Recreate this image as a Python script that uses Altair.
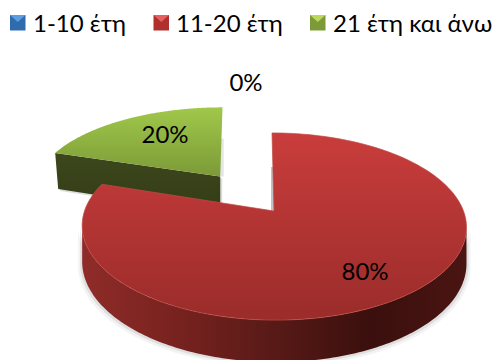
import math
import numpy as np
import altair as alt

# Shares and legend entries, in drawing order clockwise from twelve o'clock
categories = ["1-10 έτη", "11-20 έτη", "21 έτη και άνω"]
shares = [0, 80, 20]
explode = [0.0, 0.0, 0.5]

W, H = 496, 360
CX, CY = 274.0, 211.0   # centre of the disc on the page
RX, RY = 189.5, 91.0    # ellipse radii before perspective
PERSP = 0.166           # perspective strength towards the back
DEPTH = 35.0            # thickness of the disc
LEAN = [0.0, -2.0, -5.0]     # sideways lean of each slice towards the back
WIDEN = [1.0, 1.0, 1.03]     # horizontal stretch of each slice


def project(X, Y, z=0.0, i=1, oy=0.0):
    w = 1 + PERSP * Y
    return (CX + RX * WIDEN[i] * X / w + LEAN[i] * (Y - oy),
            CY + (-RY * Y + z) / w)


def polygon(points):
    ring = [[float(a), float(b)] for a, b in points]
    ring.append(ring[0])
    return {"type": "Feature", "properties": {},
            "geometry": {"type": "Polygon", "coordinates": [ring]}}


def shape(points, **mark):
    return (alt.Chart(alt.Data(values=[polygon(points)]))
            .mark_geoshape(**mark)
            .project(type="identity", scale=1, translate=[0, 0]))


def gradient(stops, horizontal=False):
    n = len(stops) - 1
    return {"gradient": "linear", "x1": 0, "y1": 0,
            "x2": 1 if horizontal else 0, "y2": 0 if horizontal else 1,
            "stops": [{"offset": k / n, "color": c} for k, c in enumerate(stops)]}


def rim(start, end, i, origin, z=0.0, n=160):
    ox, oy = origin
    return [project(ox + math.sin(t), oy + math.cos(t), z, i, oy)
            for t in np.linspace(start, end, n)]


# Angular extent of each slice and its displaced apex
edges = np.cumsum([0] + shares) / 100 * 2 * math.pi
mids = (edges[:-1] + edges[1:]) / 2
origins = [(e * math.sin(m), e * math.cos(m)) for e, m in zip(explode, mids)]

layers = []

# Green slice: cut face, then top
g0, g1 = edges[2], edges[3]
go = origins[2]
apex = project(go[0], go[1], 0, 2, go[1])
corner = project(go[0] + math.sin(g0), go[1] + math.cos(g0), 0, 2, go[1])
drop = DEPTH + 5
face = [corner, apex,
        (apex[0], apex[1] + drop * 0.95),
        (corner[0] + 3, corner[1] + drop * 0.9)]
layers.append(shape([(x + 2, y + 2) for x, y in face], fill="#777777", opacity=0.25))
layers.append(shape(face, fill=gradient(["#3d471c", "#333c17"])))
layers.append(shape([apex, (apex[0] + 3.5, apex[1]), (apex[0] + 3.5, apex[1] - 38), (apex[0], apex[1] - 38)],
                    fill="#999999", opacity=0.25))
layers.append(shape([apex] + rim(g0, g1, 2, go),
                    fill=gradient(["#a0c84a", "#7c9a38"])))

# Red slice: soft halo, side wall, top
r0, r1 = edges[1], edges[2]
ro = origins[1]
side_a = math.acos(-PERSP)
side_b = 2 * math.pi - side_a
upper = rim(side_a, side_b, 1, ro)
lower = rim(side_a, side_b, 1, ro, DEPTH)
for grow, alpha in [(4, 0.07), (2, 0.12)]:
    halo = [(x + (grow if x > CX else -grow), y) for x, y in upper] + \
           [(x + (grow if x > CX else -grow), y + grow) for x, y in lower[::-1]]
    layers.append(shape(halo, fill="#555555", opacity=alpha))
layers.append(shape(upper + lower[::-1],
                    fill=gradient(["#8f2c29", "#77221f", "#581a17", "#3a0f0d", "#4a1512"],
                                  horizontal=True)))
centre = project(ro[0], ro[1], 0, 1, ro[1])
layers.append(shape([(centre[0] - 3, centre[1] - 44), (centre[0], centre[1] - 44), centre,
                     (centre[0] - 3, centre[1])], fill="#666666", opacity=0.4))
layers.append(shape([centre] + rim(r0, r1, 1, ro), fill=gradient(["#c93d3c", "#9a2c2a"]),
                    stroke="#c04a45", strokeWidth=0.7))

# Percentage labels
label_x = [246, 365, 165]
label_y = [84, 273, 136]
for share, lx, ly in zip(shares, label_x, label_y):
    layers.append(alt.Chart(alt.Data(values=[{"label": f"{share}%"}]))
                  .mark_text(font="Lato", fontSize=24, color="#000000",
                             align="center", baseline="middle")
                  .encode(x=alt.value(lx), y=alt.value(ly), text="label:N"))

# Legend: bevelled swatches and their captions
swatch_x = [10, 153.5, 310]
swatch_y, swatch_s = 15, 15.5
swatch_mid = ["#2f6cae", "#b02f2f", "#7d9a38"]
swatch_top = ["#5d9ee0", "#e8605e", "#bcd85c"]
text_x = [33, 176, 333]
for name, sx, mid, top, tx in zip(categories, swatch_x, swatch_mid, swatch_top, text_x):
    square = [(sx, swatch_y), (sx + swatch_s, swatch_y),
              (sx + swatch_s, swatch_y + swatch_s), (sx, swatch_y + swatch_s)]
    wedge = [(sx, swatch_y), (sx + swatch_s, swatch_y),
             (sx + swatch_s / 2, swatch_y + swatch_s * 0.45)]
    layers.append(shape(square, fill=mid))
    layers.append(shape(wedge, fill=top))
    layers.append(alt.Chart(alt.Data(values=[{"label": name}]))
                  .mark_text(font="Lato", fontSize=24, color="#000000",
                             align="left", baseline="middle")
                  .encode(x=alt.value(tx), y=alt.value(25), text="label:N"))

chart = (alt.layer(*layers)
         .properties(width=W, height=H, padding=0,
                     autosize=alt.AutoSizeParams(type="none"))
         .configure_view(stroke=None))

chart.save("out.html", embed_options={"renderer": "svg", "actions": False})
